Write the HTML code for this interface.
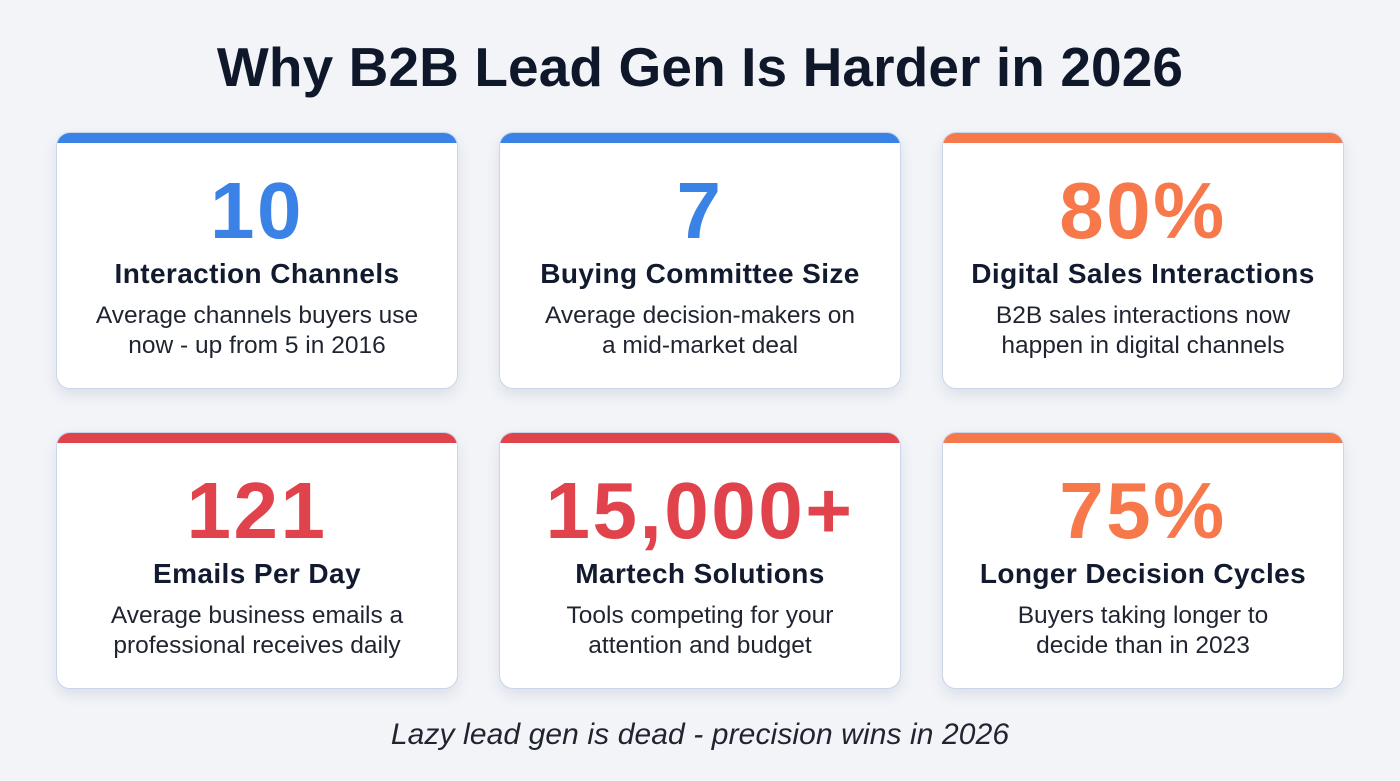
<!DOCTYPE html>
<html><head><meta charset="utf-8"><style>
*{margin:0;padding:0;box-sizing:border-box}
body{width:1400px;height:781px;background:#f2f4f8;font-family:"Liberation Sans",sans-serif;position:relative;overflow:hidden;color:#111827}
h1{position:absolute;top:35px;left:0;width:1400px;text-align:center;font-size:55px;font-weight:700;color:#0f172a;letter-spacing:0.1px}
.card{position:absolute;width:402px;height:257px;background:#fff;border-radius:14px;border:1.5px solid #c9d6ea;overflow:hidden;box-shadow:0 6px 14px rgba(30,50,90,0.10);text-align:center}
.bar{height:10px;width:100%}
.num{position:absolute;top:38px;left:0;width:100%;font-size:80px;font-weight:700;line-height:1;letter-spacing:2.5px}
.t{position:absolute;top:125px;left:0;width:100%;font-size:28px;font-weight:700;color:#111a2e;letter-spacing:0.4px;white-space:nowrap}
.d{position:absolute;top:168px;left:0;width:100%;font-size:24.5px;line-height:30px;color:#1f2430;white-space:nowrap}
.foot{position:absolute;top:718px;left:0;width:1400px;text-align:center;font-size:30px;font-style:italic;color:#1f2430;letter-spacing:0.1px}
</style></head><body>
<h1>Why B2B Lead Gen Is Harder in 2026</h1>

<div class="card" style="left:56px;top:132px"><div class="bar" style="background:#3b82e6"></div><div class="num" style="color:#3b82e6">10</div><div class="t">Interaction Channels</div><div class="d">Average channels buyers use<br>now - up from 5 in 2016</div></div>
<div class="card" style="left:499px;top:132px"><div class="bar" style="background:#3b82e6"></div><div class="num" style="color:#3b82e6">7</div><div class="t">Buying Committee Size</div><div class="d">Average decision-makers on<br>a mid-market deal</div></div>
<div class="card" style="left:942px;top:132px"><div class="bar" style="background:#f7794b"></div><div class="num" style="color:#f7794b">80%</div><div class="t">Digital Sales Interactions</div><div class="d">B2B sales interactions now<br>happen in digital channels</div></div>

<div class="card" style="left:56px;top:432px"><div class="bar" style="background:#e0434b"></div><div class="num" style="color:#e0434b">121</div><div class="t">Emails Per Day</div><div class="d">Average business emails a<br>professional receives daily</div></div>
<div class="card" style="left:499px;top:432px"><div class="bar" style="background:#e0434b"></div><div class="num" style="color:#e0434b">15,000+</div><div class="t">Martech Solutions</div><div class="d">Tools competing for your<br>attention and budget</div></div>
<div class="card" style="left:942px;top:432px"><div class="bar" style="background:#f7794b"></div><div class="num" style="color:#f7794b">75%</div><div class="t">Longer Decision Cycles</div><div class="d">Buyers taking longer to<br>decide than in 2023</div></div>

<div class="foot">Lazy lead gen is dead - precision wins in 2026</div>
</body></html>
